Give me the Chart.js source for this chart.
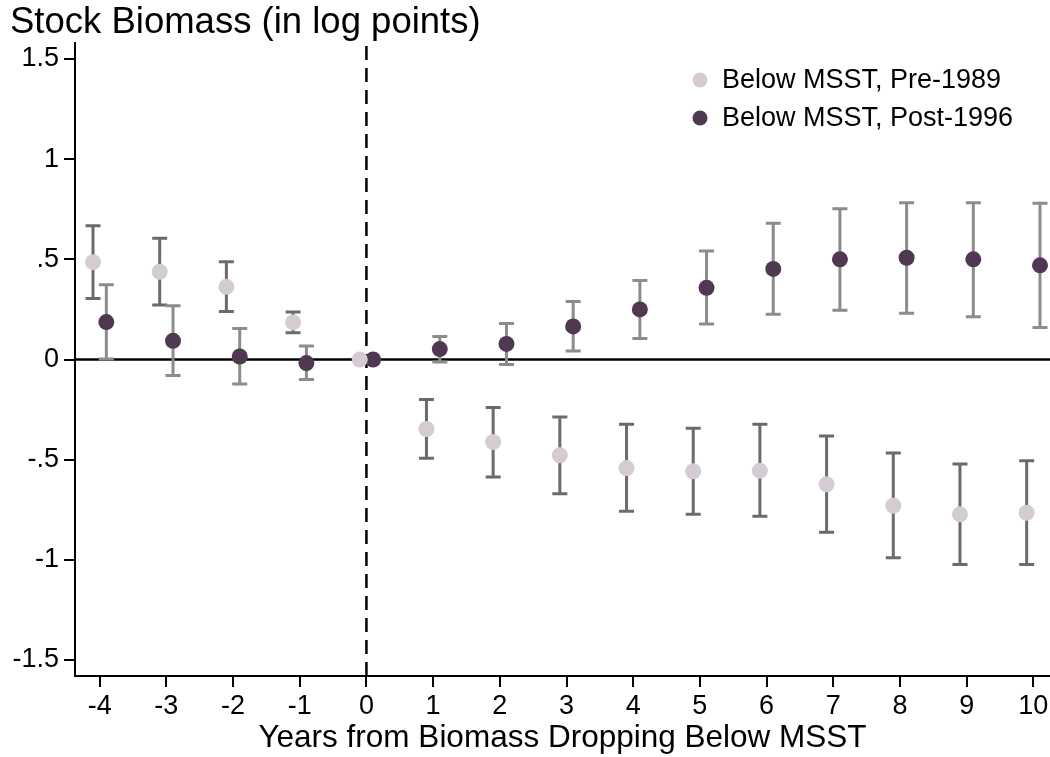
<!DOCTYPE html>
<html>
<head>
<meta charset="utf-8">
<title>Stock Biomass event study</title>
<script src="https://cdn.jsdelivr.net/npm/chart.js@4.4.1/dist/chart.umd.min.js"></script>
<style>
  html, body { margin: 0; padding: 0; background: #ffffff; }
  #wrap { width: 1050px; height: 757px; }
</style>
</head>
<body>
<div id="wrap"><canvas id="c" width="1050" height="757"></canvas></div>
<script>
// Event time (years relative to biomass dropping below MSST)
const years = [-4, -3, -2, -1, 0, 1, 2, 3, 4, 5, 6, 7, 8, 9, 10];

// Below MSST, Pre-1989: point estimates and 95% CI bounds (log points)
const preEst  = [0.486, 0.438, 0.363, 0.185, 0, -0.347, -0.412, -0.478, -0.542, -0.558, -0.555, -0.623, -0.730, -0.773, -0.765];
const preLow  = [0.305, 0.272, 0.240, 0.133, null, -0.493, -0.587, -0.670, -0.757, -0.773, -0.783, -0.863, -0.990, -1.023, -1.023];
const preHigh = [0.668, 0.605, 0.488, 0.237, null, -0.200, -0.240, -0.287, -0.323, -0.343, -0.323, -0.382, -0.467, -0.522, -0.505];

// Below MSST, Post-1996
const postEst  = [0.187, 0.093, 0.015, -0.018, 0, 0.052, 0.078, 0.165, 0.250, 0.358, 0.452, 0.500, 0.508, 0.500, 0.470];
const postLow  = [0.003, -0.080, -0.122, -0.100, null, -0.012, -0.025, 0.043, 0.105, 0.177, 0.226, 0.246, 0.231, 0.214, 0.160];
const postHigh = [0.373, 0.268, 0.155, 0.067, null, 0.115, 0.180, 0.290, 0.395, 0.542, 0.680, 0.753, 0.783, 0.783, 0.780];

// Axis ticks
const xTicks = [-4, -3, -2, -1, 0, 1, 2, 3, 4, 5, 6, 7, 8, 9, 10];
const yTicks = [-1.5, -1, -0.5, 0, 0.5, 1, 1.5];
const yTickLabels = ['-1.5', '-1', '-.5', '0', '.5', '1', '1.5'];

const seriesNames = ['Below MSST, Pre-1989', 'Below MSST, Post-1996'];
const yTitle = 'Stock Biomass (in log points)';
const xTitle = 'Years from Biomass Dropping Below MSST';

const FONT = '"Liberation Sans", Arial, Helvetica, sans-serif';
const DODGE = 0.1; // horizontal offset so the two series sit side by side

function toPoints(vals, shift) {
  return years.map((yr, i) => ({ x: yr + shift, y: vals[i] }));
}

// Zero line and dashed event-time line, drawn beneath the markers
const referenceLines = {
  id: 'referenceLines',
  beforeDatasetsDraw(chart) {
    const { ctx, chartArea: a, scales: { x, y } } = chart;
    ctx.save();
    ctx.strokeStyle = '#000';
    ctx.lineWidth = 2.5;
    const y0 = y.getPixelForValue(0);
    ctx.beginPath(); ctx.moveTo(a.left, y0); ctx.lineTo(a.right, y0); ctx.stroke();
    const x0 = x.getPixelForValue(0);
    ctx.setLineDash([14, 8]);
    ctx.beginPath(); ctx.moveTo(x0, a.top + 3); ctx.lineTo(x0, a.bottom); ctx.stroke();
    ctx.restore();
  }
};

// Capped confidence-interval bars for each dataset
const errorBars = {
  id: 'errorBars',
  beforeDatasetsDraw(chart) {
    const { ctx, scales: { x, y } } = chart;
    ctx.save();
    chart.data.datasets.forEach(ds => {
      ctx.strokeStyle = ds.ciColor;
      ctx.lineWidth = 3;
      ds.data.forEach((p, i) => {
        const lo = ds.ciLow[i], hi = ds.ciHigh[i];
        if (lo == null || hi == null) return;
        const px = x.getPixelForValue(p.x);
        const pl = y.getPixelForValue(lo);
        const ph = y.getPixelForValue(hi);
        const cap = 7.5;
        ctx.beginPath();
        ctx.moveTo(px, pl); ctx.lineTo(px, ph);
        ctx.moveTo(px - cap, pl); ctx.lineTo(px + cap, pl);
        ctx.moveTo(px - cap, ph); ctx.lineTo(px + cap, ph);
        ctx.stroke();
      });
    });
    ctx.restore();
  }
};

// Axis title above the plot and legend in the upper right
const annotations = {
  id: 'annotations',
  afterDraw(chart) {
    const { ctx } = chart;
    ctx.save();
    ctx.fillStyle = '#000';
    ctx.font = '36.5px ' + FONT;
    ctx.textAlign = 'left';
    ctx.textBaseline = 'alphabetic';
    ctx.fillText(yTitle, 10, 33);

    chart.data.datasets.forEach((ds, i) => {
      const cy = 80 + i * 38;
      ctx.beginPath();
      ctx.fillStyle = ds.backgroundColor;
      ctx.arc(700, cy, 7.5, 0, Math.PI * 2);
      ctx.fill();
      ctx.fillStyle = '#000';
      ctx.textBaseline = 'middle';
      ctx.font = '27px ' + FONT;
      ctx.fillText(ds.label, 722, cy + 1);
    });
    ctx.restore();
  }
};

new Chart(document.getElementById('c'), {
  type: 'scatter',
  data: {
    datasets: [
      {
        label: seriesNames[0],
        data: toPoints(preEst, -DODGE),
        ciLow: preLow, ciHigh: preHigh, ciColor: '#6b6b6b',
        backgroundColor: '#d5cbd3',
        borderWidth: 0,
        pointRadius: 8
      },
      {
        label: seriesNames[1],
        data: toPoints(postEst, DODGE),
        ciLow: postLow, ciHigh: postHigh, ciColor: '#8c8c8c',
        backgroundColor: '#513852',
        borderWidth: 0,
        pointRadius: 8
      }
    ]
  },
  options: {
    responsive: false,
    animation: false,
    events: [],
    layout: { autoPadding: false, padding: { top: 43, right: 0, left: 0, bottom: 0 } },
    plugins: { legend: { display: false }, tooltip: { enabled: false } },
    scales: {
      x: {
        type: 'linear',
        min: -4.37,
        max: 10.25,
        afterBuildTicks(s) { s.ticks = xTicks.map(v => ({ value: v })); },
        afterFit(s) { s.height = 81; s.paddingLeft = 0; s.paddingRight = 0; },
        ticks: { color: '#000', font: { family: FONT, size: 27 }, padding: 3, maxRotation: 0, autoSkip: false },
        grid: { display: true, drawOnChartArea: false, drawTicks: true, tickLength: 11, color: '#000', lineWidth: 2 },
        border: { display: true, color: '#000', width: 2 },
        title: { display: true, text: xTitle, color: '#000', font: { family: FONT, size: 31.5 }, padding: { top: 0, bottom: 0 } }
      },
      y: {
        type: 'linear',
        min: -1.58,
        max: 1.58,
        afterBuildTicks(s) { s.ticks = yTicks.map(v => ({ value: v })); },
        afterFit(s) { s.width = 75; s.paddingTop = 0; s.paddingBottom = 0; },
        ticks: {
          color: '#000', font: { family: FONT, size: 27 }, padding: 5,
          callback(v) {
            const k = yTicks.findIndex(t => Math.abs(t - v) < 1e-9);
            return k >= 0 ? yTickLabels[k] : '';
          }
        },
        grid: { display: true, drawOnChartArea: false, drawTicks: true, tickLength: 11, color: '#000', lineWidth: 2 },
        border: { display: true, color: '#000', width: 2 }
      }
    }
  },
  plugins: [referenceLines, errorBars, annotations]
});
</script>
</body>
</html>
